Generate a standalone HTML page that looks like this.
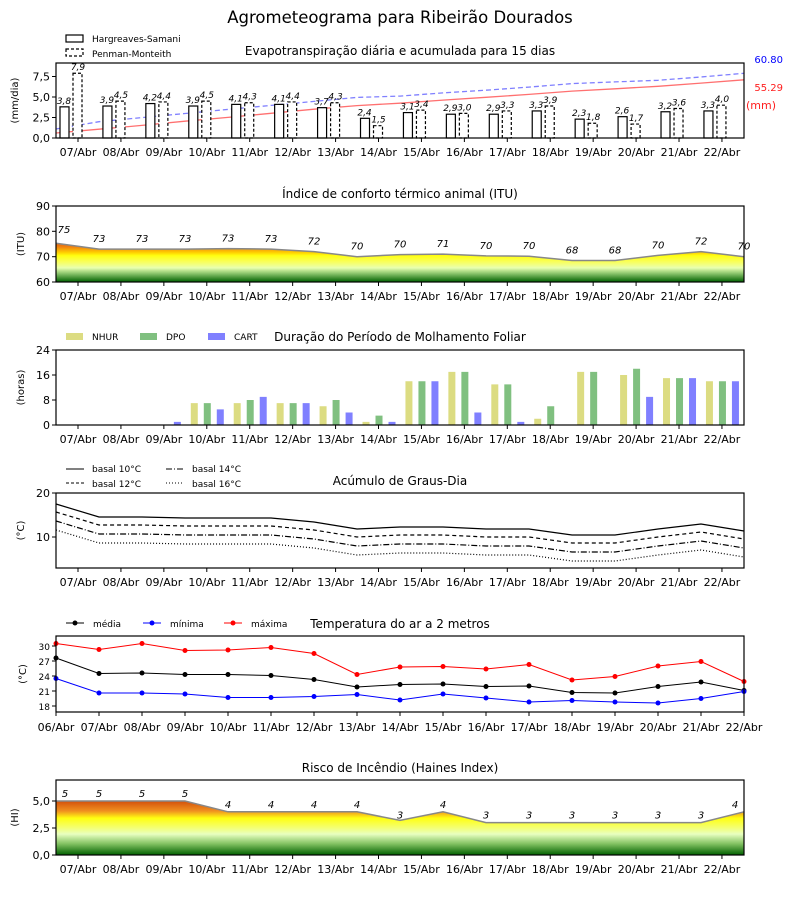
<!DOCTYPE html>
<html><head><meta charset="utf-8"><style>
html,body{margin:0;padding:0;background:#fff;}
svg{display:block;font-family:"DejaVu Sans","Liberation Sans",sans-serif;}
</style></head><body>
<svg id="s" width="800" height="900" xmlns="http://www.w3.org/2000/svg">
<defs>
<linearGradient id="gi" gradientUnits="userSpaceOnUse" x1="0" y1="238" x2="0" y2="282">
<stop offset="0" stop-color="#d0400a"/><stop offset="0.2" stop-color="#f08010"/><stop offset="0.33" stop-color="#ffd000"/><stop offset="0.4" stop-color="#ffff10"/><stop offset="0.55" stop-color="#f8ff60"/><stop offset="0.68" stop-color="#e8ffb0"/><stop offset="0.8" stop-color="#90c870"/><stop offset="1" stop-color="#006000"/>
</linearGradient>
<linearGradient id="gf" gradientUnits="userSpaceOnUse" x1="0" y1="800" x2="0" y2="855">
<stop offset="0" stop-color="#d04a0a"/><stop offset="0.2" stop-color="#f09020"/><stop offset="0.33" stop-color="#ffff10"/><stop offset="0.5" stop-color="#f4ff70"/><stop offset="0.62" stop-color="#e8ffc0"/><stop offset="0.8" stop-color="#80c060"/><stop offset="1" stop-color="#006000"/>
</linearGradient>
</defs>
<g id="g"></g>
</svg>
<script>
var g=document.getElementById('g'),h='';
function T(x,y,t,o){o=o||{};h+='<text x="'+x+'" y="'+y+'" font-size="'+(o.s||11)+'" text-anchor="'+(o.a||'middle')+'" fill="'+(o.c||'#000')+'"'+(o.i?' font-style="italic"':'')+(o.r?' transform="rotate(-90 '+x+' '+y+')"':'')+'>'+t+'</text>';}
function L(x1,y1,x2,y2,c,w,d){h+='<line x1="'+x1+'" y1="'+y1+'" x2="'+x2+'" y2="'+y2+'" stroke="'+(c||'#000')+'" stroke-width="'+(w||1)+'"'+(d?' stroke-dasharray="'+d+'"':'')+'/>';}
function R(x,y,w,hh,f,s,d){h+='<rect x="'+x+'" y="'+y+'" width="'+w+'" height="'+hh+'" fill="'+(f||'none')+'"'+(s?' stroke="'+s+'" stroke-width="1.2"':'')+(d?' stroke-dasharray="'+d+'"':'')+'/>';}
function P(pts,c,w,d,f){h+='<polyline points="'+pts.map(p=>p[0].toFixed(1)+','+p[1].toFixed(1)).join(' ')+'" fill="'+(f||'none')+'" stroke="'+c+'" stroke-width="'+(w||1)+'"'+(d?' stroke-dasharray="'+d+'"':'')+'/>';}
var days=['07','08','09','10','11','12','13','14','15','16','17','18','19','20','21','22'];
function tk(i){return 78+i*42.93;}
function pt(i){return 56+i*43;}
function axes(y0,y1,ticks,lab,labx,xl){
 R(56,y0,688,y1-y0,null,'#000');
 ticks.forEach(t=>{L(52,t[0],56,t[0]);T(50,t[0]+4,t[1],{a:'end',s:t[2]||11});});
 T(labx||24,(y0+y1)/2,lab,{r:1,s:10});
 if(!xl){days.forEach((d,i)=>{L(tk(i),y1,tk(i),y1+4);T(tk(i),y1+18,d+'/Abr');});}
}
T(400,23,'Agrometeograma para Ribeirão Dourados',{s:16.5});
T(400,55,'Evapotranspiração diária e acumulada para 15 dias',{s:12});
R(66,35,17,7,null,'#000');T(92,42,'Hargreaves-Samani',{a:'start',s:9});
R(66,49,17,7,null,'#000','3,2');T(92,57,'Penman-Monteith',{a:'start',s:9});
var hs=[3.8,3.9,4.2,3.9,4.1,4.1,3.7,2.4,3.1,2.9,2.9,3.3,2.3,2.6,3.2,3.3],pm=[7.9,4.5,4.4,4.5,4.3,4.4,4.3,1.5,3.4,3.0,3.3,3.9,1.8,1.7,3.6,4.0];
function y1v(v){return 138-v*8.2;}
var ch=[[56,133]],cp=[[56,129]],a=0,b=0;
hs.forEach((v,i)=>{a+=v;b+=pm[i];ch.push([pt(i+1),133-a*0.99]);cp.push([pt(i+1),129-b*0.92]);});
P(ch,'#ff7070',1.3);P(cp,'#8080ff',1.3,'5,3');
hs.forEach((v,i)=>{var x=tk(i);R(x-18,y1v(v),9,v*8.2,'#fff','#000');R(x-5,y1v(pm[i]),9,pm[i]*8.2,'#fff','#000','3,2');
 T(x-14,y1v(v)-3,(''+v.toFixed(1)).replace('.',','),{i:1,s:9});T(x,y1v(pm[i])-3,(''+pm[i].toFixed(1)).replace('.',','),{i:1,s:9});});
axes(63,138,[[138,'0,0'],[117.5,'2,5'],[97,'5,0'],[76.5,'7,5']],'(mm/dia)',18);
T(783,63,'60.80',{c:'#0000ff',s:10,a:'end'});T(783,91,'55.29',{c:'#ff2020',s:10,a:'end'});T(776,109,'(mm)',{c:'#ff2020',s:11,a:'end'});
T(400,198,'Índice de conforto térmico animal (ITU)',{s:12});
var itu=[75.3,73,73,73,73.2,73,72,70,70.8,71,70.3,70.2,68.5,68.5,70.5,72,70];
function y2(v){return 282-(v-60)*2.533;}
var ip=itu.map((v,i)=>[pt(i),y2(v)]);
P([[56,282]].concat(ip).concat([[744,282]]),'none',0,null,'url(#gi)');P(ip,'#888',1.5);
var il=[75,73,73,73,73,73,72,70,70,71,70,70,68,68,70,72,70];
il.forEach((v,i)=>{T(i==0?64:pt(i),y2(itu[i])-(i==0?10:7),v,{i:1,s:10});});
axes(206,282,[[282,'60'],[256.7,'70'],[231.3,'80'],[206,'90']],'(ITU)',24);
T(400,341,'Duração do Período de Molhamento Foliar',{s:12});
R(66,333,17,7,'#dcdc82');T(92,340,'NHUR',{a:'start',s:9});
R(140,333,17,7,'#80c080');T(166,340,'DPO',{a:'start',s:9});
R(208,333,17,7,'#8080ff');T(234,340,'CART',{a:'start',s:9});
var w3=[[0,0,0],[0,0,0],[0,0,1],[7,7,5],[7,8,9],[7,7,7],[6,8,4],[1,3,1],[14,14,14],[17,17,4],[13,13,1],[2,6,0],[17,17,0],[16,18,9],[15,15,15],[14,14,14]];
var cols=['#dcdc82','#80c080','#8080ff'],off=[-16,-3,10];
w3.forEach((d,i)=>{d.forEach((v,j)=>{if(v>0)R(tk(i)+off[j],425-v*3.125,7,v*3.125,cols[j]);});});
axes(350,425,[[425,'0'],[400,'8'],[375,'16'],[350,'24']],'(horas)',24);
T(400,485,'Acúmulo de Graus-Dia',{s:12});
L(66,469,84,469);T(92,472,'basal 10°C',{a:'start',s:9});
L(66,483,84,483,'#000',1,'3,2');T(92,487,'basal 12°C',{a:'start',s:9});
L(166,469,184,469,'#000',1,'6,2,1,2');T(192,472,'basal 14°C',{a:'start',s:9});
L(166,483,184,483,'#000',1,'1,2');T(192,487,'basal 16°C',{a:'start',s:9});
var b10=[504,517,517,518,518,518,522,529,527,527,529,529,535,535,529,524,531];
[[0,null],[8,'4,3'],[17,'6,2,1,2'],[26,'1,2']].forEach(s=>{P(b10.map((v,i)=>[pt(i),v+s[0]]),'#000',1.2,s[1]);});
axes(493,568,[[537,'10'],[493,'20']],'(°C)',24);
T(400,628,'Temperatura do ar a 2 metros',{s:12});
[['média','#000',66],['mínima','#0000ff',143],['máxima','#ff0000',224]].forEach(s=>{L(s[2],623,s[2]+18,623,s[1]);h+='<circle cx="'+(s[2]+9)+'" cy="623" r="2.5" fill="'+s[1]+'"/>';T(s[2]+27,627,s[0],{a:'start',s:9});});
var tmax=[30.5,29.3,30.5,29.1,29.2,29.7,28.5,24.3,25.8,25.9,25.4,26.3,23.2,23.9,26,26.9,22.9],
tmed=[27.6,24.5,24.6,24.3,24.3,24.1,23.3,21.8,22.3,22.4,21.9,22,20.7,20.6,21.9,22.8,21.1],
tmin=[23.5,20.6,20.6,20.4,19.7,19.7,19.9,20.3,19.2,20.4,19.6,18.8,19.1,18.8,18.6,19.5,20.9];
function y5(v){return 706-(v-18)*5;}
[[tmax,'#ff0000'],[tmed,'#000'],[tmin,'#0000ff']].forEach(s=>{var p=s[0].map((v,i)=>[pt(i),y5(v)]);P(p,s[1],1);p.forEach(q=>{h+='<circle cx="'+q[0]+'" cy="'+q[1]+'" r="2.5" fill="'+s[1]+'"/>';});});
axes(636,712,[[706,'18',9],[691,'21',9],[676,'24',9],[661,'27',9],[646,'30',9]],'(°C)',26,1);
['06','07','08','09','10','11','12','13','14','15','16','17','18','19','20','21','22'].forEach((d,i)=>{L(pt(i),712,pt(i),716);T(pt(i),731,d+'/Abr');});
T(400,772,'Risco de Incêndio (Haines Index)',{s:12});
function y6(v){return 855-v*10.8;}
var fp=[[56,y6(5)],[185,y6(5)],[228,y6(4)],[357,y6(4)],[400,y6(3.2)],[443,y6(4)],[486,y6(3)],[701,y6(3)],[744,y6(4)]];
P([[56,855]].concat(fp).concat([[744,855]]),'none',0,null,'url(#gf)');P(fp,'#888',1.5);
[[65,5],[99,5],[142,5],[185,5],[228,4],[271,4],[314,4],[357,4],[400,3],[443,4],[486,3],[529,3],[572,3],[615,3],[658,3],[701,3],[735,4]].forEach(q=>{T(q[0],y6(q[1]>=4?q[1]:3)-4,q[1],{i:1,s:10});});
axes(780,855,[[855,'0,0'],[828,'2,5'],[801,'5,0']],'(HI)',18);
g.innerHTML=h;
</script>
</body></html>
